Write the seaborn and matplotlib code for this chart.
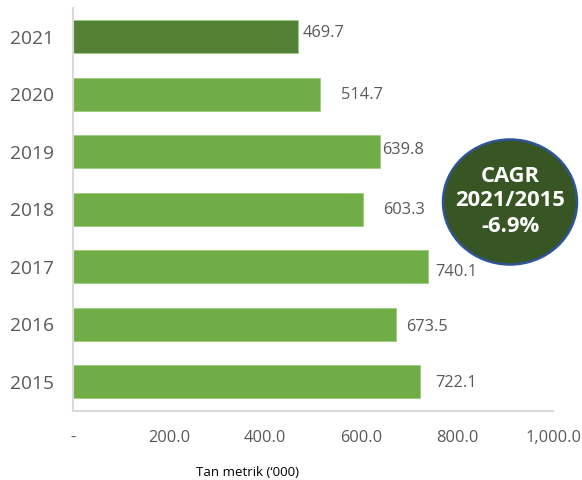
import matplotlib
matplotlib.use("Agg")
import matplotlib.pyplot as plt
from matplotlib.patches import Ellipse
import seaborn as sns
import pandas as pd

years = ["2021", "2020", "2019", "2018", "2017", "2016", "2015"]
values = [469.7, 514.7, 639.8, 603.3, 740.1, 673.5, 722.1]
value_labels = ["469.7", "514.7", "639.8", "603.3", "740.1", "673.5", "722.1"]
bar_colors = ["#548235", "#70AD47", "#70AD47", "#70AD47", "#70AD47", "#70AD47", "#70AD47"]
x_ticks = [0, 200, 400, 600, 800, 1000]
x_tick_labels = ["-", "200.0", "400.0", "600.0", "800.0", "1,000.0"]
x_title = "Tan metrik (\u2018000)"
badge_lines = ["CAGR", "2021/2015", "-6.9%"]
# manual label nudges (pixels): dx right of bar end, dy (positive = down)
label_dx = [4, 21, 2, 21, 7, 10, 16]
label_dy = [-3.5, 1, -1.5, 1, 5.5, 3, 1.5]

sns.set_theme(style="white")
plt.rcParams["font.family"] = ["Open Sans", "DejaVu Sans"]

W, H = 582, 480
fig = plt.figure(figsize=(W / 100, H / 100), dpi=100)
ax = fig.add_axes([73 / W, 1 - 410.7 / H, 480 / W, (410.7 - 7.75) / H])

df = pd.DataFrame({"year": years, "value": values})
sns.barplot(data=df, x="value", y="year", hue="year", palette=bar_colors,
            order=years, hue_order=years, orient="h", width=0.574,
            legend=False, ax=ax, saturation=1)
for p in ax.patches:
    p.set_edgecolor("#9CCB7C")
    p.set_linewidth(0.6)

ax.set_xlim(0, 1000)
ax.set_ylim(len(years) - 0.5, -0.5)
ax.set_xticks(x_ticks)
ax.set_xticklabels(x_tick_labels, fontsize=11.8, color="#595959")
ax.tick_params(axis="x", length=0, pad=14)
ax.tick_params(axis="y", length=0, pad=14, labelsize=13.8, labelcolor="#595959")
ax.set_xlabel("")
ax.set_ylabel("")

for s in ["top", "right"]:
    ax.spines[s].set_visible(False)
for s in ["left", "bottom"]:
    ax.spines[s].set_color("#D9D9D9")
    ax.spines[s].set_linewidth(1.5)

for i, (v, lab) in enumerate(zip(values, value_labels)):
    ax.annotate(lab, xy=(v, i), xytext=(label_dx[i], -label_dy[i]),
                textcoords="offset pixels", ha="left", va="center",
                fontsize=11.8, color="#595959")

fig.text(248 / W, 1 - 472 / H, x_title, ha="center", va="center",
         fontsize=9.5, color="#000000")

ell = Ellipse((510 / W, 1 - 202 / H), 134 / W, 125 / H,
              transform=fig.transFigure, facecolor="#375623",
              edgecolor="#2F5597", linewidth=1.8)
fig.add_artist(ell)
fig.text(510 / W, 1 - 201 / H, "\n".join(badge_lines), ha="center", va="center",
         fontsize=15.8, fontweight="bold", color="white", linespacing=1.25)

fig.savefig("out.png", dpi=100)
